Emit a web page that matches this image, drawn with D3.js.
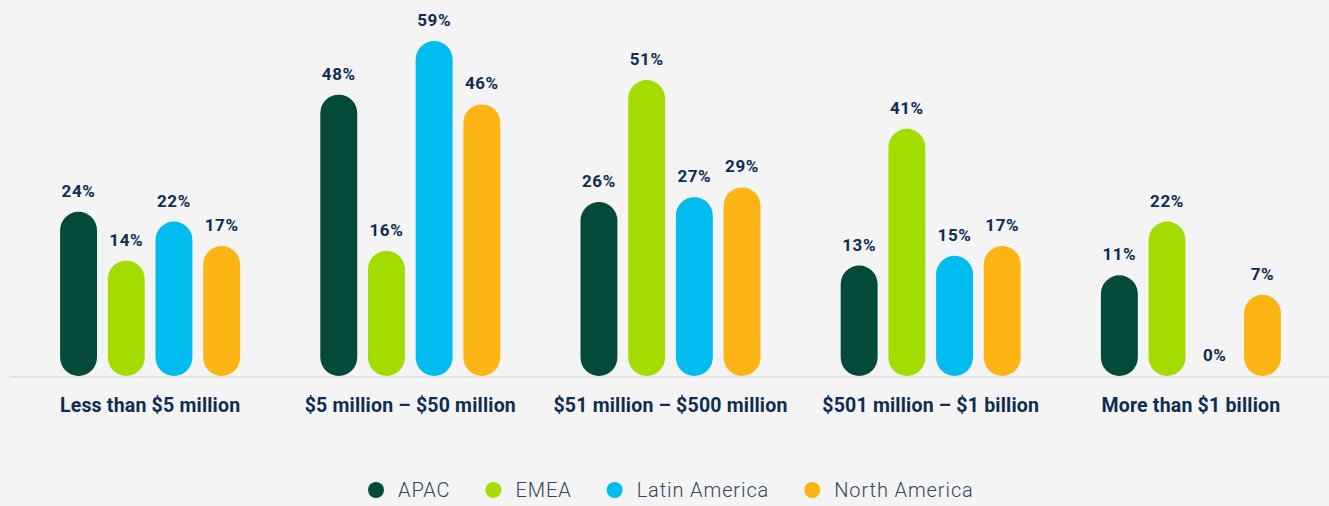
<!DOCTYPE html>
<html>
<head>
<meta charset="utf-8">
<script src="https://cdn.jsdelivr.net/npm/d3@7"></script>
<style>
  html, body { margin: 0; padding: 0; background: #f4f4f4; }
  svg { display: block; }
  .val { font-family: Roboto, "Liberation Sans", sans-serif; font-weight: 700; font-size: 17px; fill: #0f2d52; letter-spacing: 0.6px; }
  .cat { font-family: Roboto, "Liberation Sans", sans-serif; font-weight: 700; font-size: 19.5px; fill: #0f2d52; letter-spacing: 0.2px; }
  .leg { font-family: Roboto, "Liberation Sans", sans-serif; font-weight: 300; font-size: 20px; fill: #33445a; letter-spacing: 0.9px; }
</style>
</head>
<body>
<svg id="chart"></svg>
<script>
// --- DATOS ---
const categories = [
  "Less than $5 million",
  "$5 million – $50 million",
  "$51 million – $500 million",
  "$501 million – $1 billion",
  "More than $1 billion"
];
const regions = ["APAC", "EMEA", "Latin America", "North America"];
const apac   = [24, 48, 26, 13, 11];
const emea   = [14, 16, 51, 41, 22];
const latam  = [22, 59, 27, 15, 0];
const namer  = [17, 46, 29, 17, 7];
const regionColors = ["#034a3a", "#a3dd00", "#00bcef", "#fdb515"];

const seriesValues = [apac, emea, latam, namer];

// --- DIBUJO ---
const W = 1329, H = 506;
const baseY = 376;

const svg = d3.select("#chart").attr("width", W).attr("height", H);

const x0 = d3.scaleBand()
  .domain(categories)
  .range([20, 1321]);

const x1 = d3.scaleBand()
  .domain(regions)
  .range([0, 180])
  .paddingInner(0.226);

const y = d3.scaleLinear()
  .domain([0, 59])
  .range([329, 41]);

const color = d3.scaleOrdinal().domain(regions).range(regionColors);

// axis line
svg.append("line")
  .attr("x1", 9).attr("x2", W)
  .attr("y1", baseY + 1).attr("y2", baseY + 1)
  .attr("stroke", "#e1e1e1").attr("stroke-width", 2);

const rows = categories.map((c, i) => ({
  cat: c,
  vals: regions.map((r, k) => ({ region: r, v: seriesValues[k][i] }))
}));

const groups = svg.selectAll("g.grp")
  .data(rows)
  .join("g")
  .attr("class", "grp")
  .attr("transform", d => `translate(${x0(d.cat) + (x0.bandwidth() - 180) / 2},0)`);

const bw = x1.bandwidth();

groups.selectAll("rect")
  .data(d => d.vals.filter(e => e.v > 0))
  .join("rect")
  .attr("x", e => x1(e.region))
  .attr("y", e => y(e.v))
  .attr("width", bw)
  .attr("height", e => baseY - y(e.v))
  .attr("rx", bw / 2).attr("ry", bw / 2)
  .attr("fill", e => color(e.region));

groups.selectAll("text.val")
  .data(d => d.vals)
  .join("text")
  .attr("class", "val")
  .attr("x", e => x1(e.region) + bw / 2)
  .attr("y", e => (e.v > 0 ? y(e.v) : baseY) - 15)
  .attr("text-anchor", "middle")
  .text(e => e.v + "%");

groups.append("text")
  .attr("class", "cat")
  .attr("x", 90)
  .attr("y", 412)
  .attr("text-anchor", "middle")
  .text(d => d.cat);

// --- LEYENDA ---
const legend = svg.append("g").attr("transform", "translate(0,490)");
let lx = 368;
regions.forEach(r => {
  const item = legend.append("g").attr("transform", `translate(${lx},0)`);
  item.append("circle").attr("cx", 8).attr("cy", 0).attr("r", 8).attr("fill", color(r));
  const t = item.append("text").attr("class", "leg")
    .attr("x", 30).attr("y", 7).text(r);
  lx += 30 + t.node().getComputedTextLength() + 35;
});
</script>
</body>
</html>
